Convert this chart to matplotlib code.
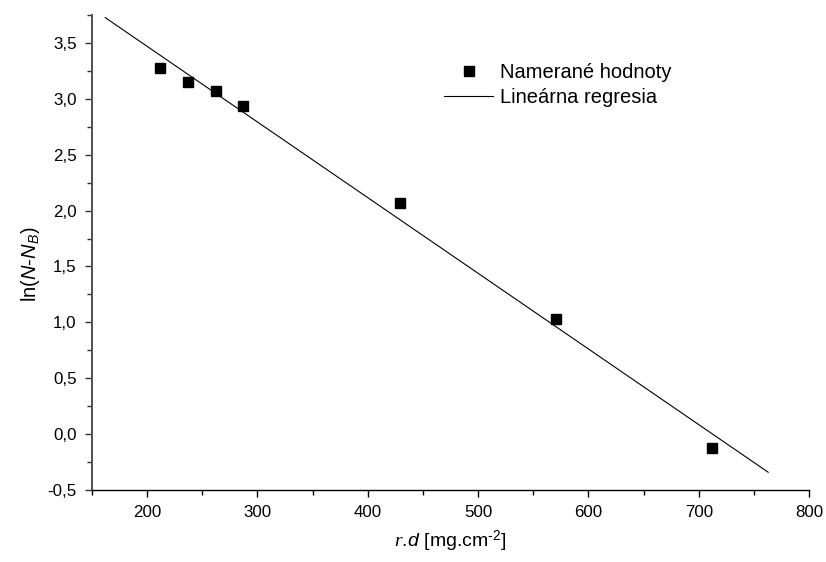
import numpy as np
import matplotlib
matplotlib.use("Agg")
import matplotlib.pyplot as plt
from matplotlib.ticker import MultipleLocator, FuncFormatter

plt.rcParams['font.family'] = ['Liberation Sans', 'DejaVu Sans']
plt.rcParams['mathtext.fontset'] = 'custom'
plt.rcParams['mathtext.rm'] = 'Liberation Sans'
plt.rcParams['mathtext.it'] = 'Liberation Serif:italic'
plt.rcParams['mathtext.sf'] = 'Liberation Sans:italic'

# measured values
rd = [212, 237, 262, 287, 429, 571, 712]
ln_n = [3.28, 3.15, 3.07, 2.94, 2.07, 1.03, -0.12]
fit_range = [162, 763]

slope, icpt = np.polyfit(rd, ln_n, 1)
fx = np.array(fit_range)
fy = slope * fx + icpt

fig = plt.figure(figsize=(8.26, 5.62), dpi=100)
ax = fig.add_axes([92 / 826, 1 - 490 / 562, (809 - 92) / 826, (490 - 15) / 562])

ax.plot(rd, ln_n, 's', color='black', ms=6.5, label='Namerané hodnoty')
ax.plot(fx, fy, '-', color='black', lw=0.8, label='Lineárna regresia')

ax.set_xlim(150, 800)
ax.set_ylim(-0.5, 3.75)
ax.xaxis.set_major_locator(MultipleLocator(100))
ax.xaxis.set_minor_locator(MultipleLocator(50))
ax.yaxis.set_major_locator(MultipleLocator(0.5))
ax.yaxis.set_minor_locator(MultipleLocator(0.25))
ax.yaxis.set_major_formatter(FuncFormatter(lambda v, p: f"{v:.1f}".replace('.', ',')))

ax.spines['top'].set_visible(False)
ax.spines['right'].set_visible(False)
ax.spines['left'].set_color('#505050')
ax.spines['left'].set_linewidth(1.4)
ax.spines['bottom'].set_linewidth(1.0)
ax.tick_params(which='major', direction='out', length=5, width=1, labelsize=12.2, pad=6)
ax.tick_params(which='minor', direction='out', length=3.5, width=1)
ax.tick_params(axis='y', which='both', color='#303030')

ax.set_xlabel('$r.\\!\\mathsf{d}$ [mg.cm$^{\\mathregular{\u20102}}$]', fontsize=14, labelpad=6)
ax.set_ylabel(r'ln($\mathsf{N}$-$\mathsf{N}_{\mathsf{B}}$)', fontsize=14.5)
ax.yaxis.set_label_coords(-0.07, 0.476)

ax.legend(loc='upper left', bbox_to_anchor=(434 / 826, 1 - 53 / 562), bbox_transform=fig.transFigure,
          frameon=False, fontsize=14.5, handlelength=2.45, handletextpad=0.35, borderpad=0,
          labelspacing=0.3, numpoints=1)

fig.savefig('out.png', dpi=100)
